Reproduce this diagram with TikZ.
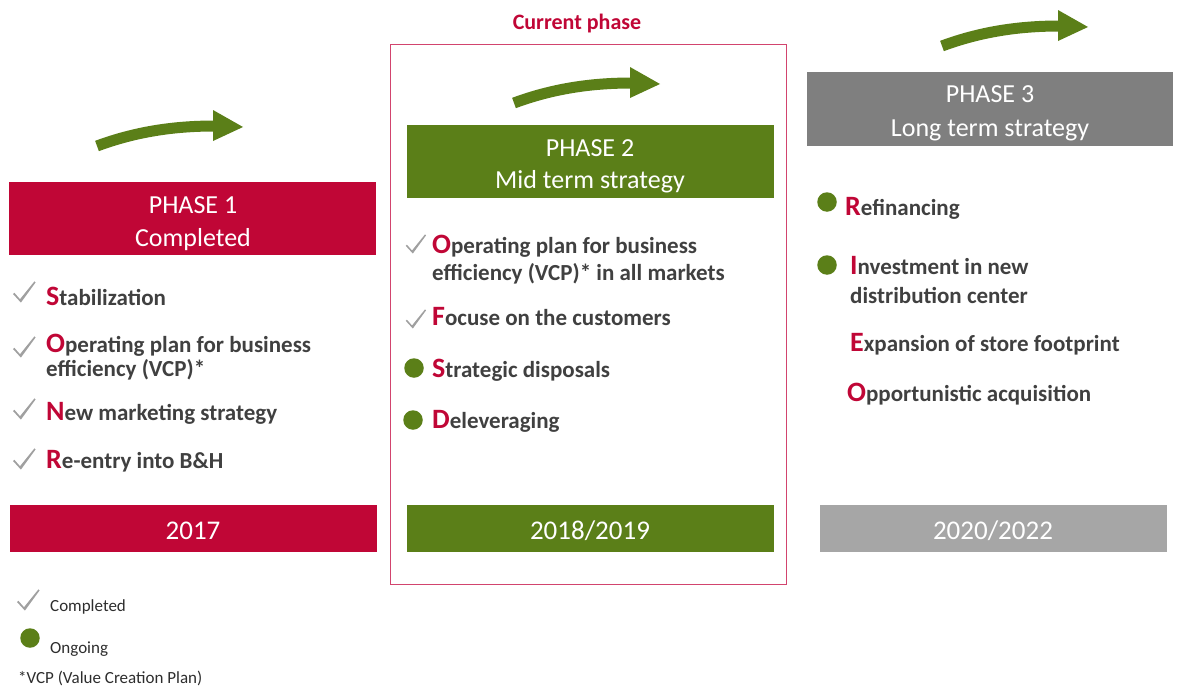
\documentclass[tikz,border=0pt]{standalone}
\usepackage{fontspec}
\setmainfont{Carlito}
\definecolor{cred}{HTML}{C00636}
\definecolor{cgreen}{HTML}{5B7F18}
\definecolor{ctext}{HTML}{404040}
\definecolor{cchk}{HTML}{A0A0A0}
\definecolor{chdrgrey}{HTML}{7F7F7F}
\definecolor{cyeargrey}{HTML}{A6A6A6}
\definecolor{cframe}{HTML}{D2446E}
\newcommand\capinit[1]{{\fontsize{28}{28}\selectfont\color{cred}#1}}
\tikzset{
  panel/.style={draw=none, inner sep=0pt, outer sep=0pt, anchor=north west},
  hdrtext/.style={inner sep=0pt, anchor=base, text=white, font=\fontsize{26}{30}\selectfont},
  yeartext/.style={inner sep=0pt, anchor=base, text=white, font=\fontsize{27}{30}\selectfont},
  item/.style={inner sep=0pt, anchor=base west, text=ctext, font=\bfseries\fontsize{23}{28}\selectfont},
  legend/.style={inner sep=0pt, anchor=base west, text=ctext!70!black, font=\fontsize{17}{20}\selectfont},
  dot/.style={circle, fill=cgreen, inner sep=0pt, minimum size=19.5pt},
  chkmark/.pic={\fill[cchk] (-7,-8) -- (-5.6,-9.2) -- (0,-2.8) -- (14.4,-20.6) -- (15.6,-19.6) -- (0.9,0.6) -- cycle;},
  bendarrow/.pic={
    \draw[cgreen, line width=11pt] (0,0) .. controls (43,-16) and (83,-20) .. (118,-20);
    \fill[cgreen] (116,-36) -- (146,-19) -- (116,-5) -- cycle;}
}
\begin{document}
\begin{tikzpicture}[x=1pt,y=-1pt]
\useasboundingbox (0,0) rectangle (1181,688);

% current phase frame
\node[panel, draw=cframe, line width=1.5pt, minimum width=396pt, minimum height=540pt] (frame) at (390.5,44.5) {};
\node[inner sep=0pt, anchor=base, text=cred, font=\bfseries\fontsize{22}{26}\selectfont] (cur) at (577,29) {Current phase};

% progress arrows
\pic at (97,146) {bendarrow};
\pic at (514,103) {bendarrow};
\pic at (942,46) {bendarrow};

% phase headers
\node[panel, fill=cred, minimum width=367pt, minimum height=73pt] (h1) at (9,182) {};
\node[hdrtext] (h1a) at (193,213) {PHASE 1};
\node[hdrtext] (h1b) at (193,246) {Completed};

\node[panel, fill=cgreen, minimum width=367pt, minimum height=73pt] (h2) at (407,125) {};
\node[hdrtext] (h2a) at (590,156) {PHASE 2};
\node[hdrtext] (h2b) at (590,188) {Mid term strategy};

\node[panel, fill=chdrgrey, minimum width=366pt, minimum height=74pt] (h3) at (807,72) {};
\node[hdrtext] (h3a) at (990,102) {PHASE 3};
\node[hdrtext] (h3b) at (990,136) {Long term strategy};

% year bars
\node[panel, fill=cred, minimum width=367pt, minimum height=47pt] (y1) at (10,505) {};
\node[yeartext] (y1t) at (193,539) {2017};
\node[panel, fill=cgreen, minimum width=367pt, minimum height=47pt] (y2) at (407,505) {};
\node[yeartext] (y2t) at (590,539) {2018/2019};
\node[panel, fill=cyeargrey, minimum width=347pt, minimum height=47pt] (y3) at (820,505) {};
\node[yeartext] (y3t) at (993,539) {2020/2022};

% phase 1 items
\pic at (20,302) {chkmark};
\node[item] (p1a) at (46,305) {\capinit{S}tabilization};
\pic at (20,357) {chkmark};
\node[item] (p1b) at (46,352) {\capinit{O}perating plan for business};
\node[item] (p1c) at (46,376) {efficiency (VCP)*};
\pic at (20,419) {chkmark};
\node[item] (p1d) at (46,420) {\capinit{N}ew marketing strategy};
\pic at (20,469) {chkmark};
\node[item] (p1e) at (46,468) {\capinit{R}e-entry into B\&H};

% phase 2 items
\pic[scale=0.9] at (412,253) {chkmark};
\node[item] (p2a) at (432,253) {\capinit{O}perating plan for business};
\node[item] (p2b) at (432,280) {efficiency (VCP)* in all markets};
\pic[scale=0.9] at (412,328) {chkmark};
\node[item] (p2c) at (432,325) {\capinit{F}ocuse on the customers};
\node[dot] (d2a) at (414,368) {};
\node[item] (p2d) at (432,377) {\capinit{S}trategic disposals};
\node[dot] (d2b) at (413,420) {};
\node[item] (p2e) at (432,428) {\capinit{D}eleveraging};

% phase 3 items
\node[dot] (d3a) at (827,202) {};
\node[item] (p3a) at (845,215) {\capinit{R}efinancing};
\node[dot] (d3b) at (827,265) {};
\node[item] (p3b) at (850,274) {\capinit{I}nvestment in new};
\node[item] (p3c) at (850,303) {distribution center};
\node[item] (p3d) at (850,351) {\capinit{E}xpansion of store footprint};
\node[item] (p3e) at (847,401) {\capinit{O}pportunistic acquisition};

% legend
\pic at (24,610) {chkmark};
\node[legend] (l1) at (50,611) {Completed};
\node[dot] (l2d) at (30,638) {};
\node[legend] (l2) at (50,653) {Ongoing};
\node[legend] (l3) at (18,683) {*VCP (Value Creation Plan)};
\end{tikzpicture}
\end{document}
